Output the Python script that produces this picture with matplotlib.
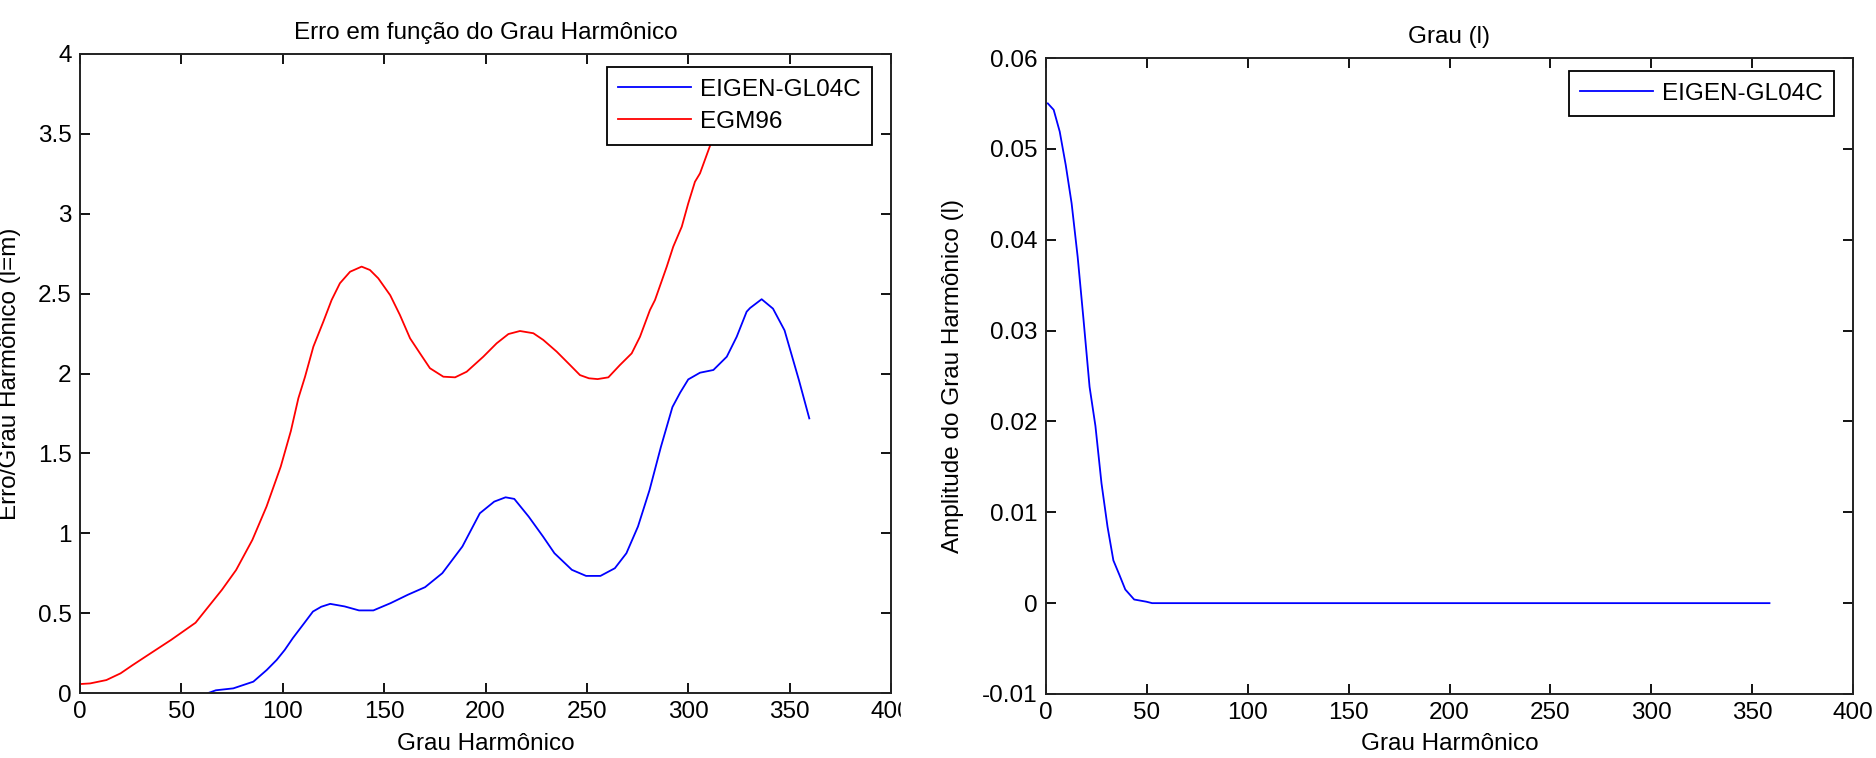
import matplotlib
matplotlib.use("Agg")
import matplotlib.pyplot as plt
from matplotlib.patches import Rectangle
from matplotlib.ticker import FuncFormatter, MultipleLocator

plt.rcParams['font.family'] = ['Liberation Sans', 'DejaVu Sans']
FS = 17.5

# ---------- dados: erro por grau (l=m) ----------
egm96_grau = [0, 5, 13, 20, 26, 35, 45, 57, 70, 77, 85, 92, 99, 104, 107.7,
              111, 115.1, 120, 124.1, 128.2, 133.2, 138.9, 143, 147.1, 153,
              157.8, 162.8, 167.7, 172.6, 179.2, 185, 190.7, 198.9, 205.5,
              211.3, 217, 223.6, 228.5, 235.1, 241.7, 246.6, 251, 255.3,
              260.6, 266.3, 272.1, 276.2, 281.1, 283.6, 289.4, 292.6,
              296.8, 300, 303.3, 305.8, 310.7, 315, 320, 325]
egm96_erro = [0.056, 0.06, 0.081, 0.123, 0.175, 0.25, 0.333, 0.44, 0.646, 0.77,
              0.958, 1.167, 1.417, 1.64, 1.845,
              1.98, 2.168, 2.324, 2.46, 2.565, 2.637, 2.669, 2.648, 2.596, 2.49,
              2.366, 2.22, 2.126, 2.033, 1.98, 1.976, 2.011, 2.105, 2.189,
              2.247, 2.266, 2.252, 2.21, 2.137, 2.053, 1.99, 1.97, 1.965,
              1.976, 2.053, 2.126, 2.23, 2.397, 2.46, 2.669, 2.794,
              2.919, 3.065, 3.2, 3.253, 3.424, 3.55, 3.7, 3.85]

eigen_grau = [63.3, 67, 75.6, 85.5, 92.1, 97, 101, 105, 110.6, 114.9, 119,
              123.4, 130.5, 137.6, 144.7, 153.2, 161.7, 170.2, 178.7, 188.6,
              197.2, 204.3, 209.9, 214.2, 221.3, 228.4, 234, 242.6, 249.6,
              256.7, 263.8, 269.5, 275.2, 280.9, 286.5, 292.2, 296, 300,
              305.8, 312.4, 319, 323.9, 328.8, 330.5, 336.2, 341.8, 347.5,
              354.6, 359.7]
eigen_erro = [0.0, 0.017, 0.029, 0.071, 0.144, 0.207, 0.27, 0.344, 0.4375, 0.51,
              0.54, 0.558, 0.542, 0.517, 0.517, 0.5625, 0.615, 0.6625, 0.75,
              0.917, 1.125, 1.198, 1.225, 1.215, 1.104, 0.979, 0.875, 0.771,
              0.733, 0.733, 0.781, 0.875, 1.042, 1.27, 1.54, 1.79, 1.88, 1.963,
              2.005, 2.022, 2.105, 2.23, 2.387, 2.41, 2.465, 2.406, 2.27,
              1.958, 1.719]

# ---------- dados: amplitude por grau ----------
amp_grau = [0.9, 3.8, 6.8, 9.8, 12.7, 15.7, 18.6, 21.6, 24.5, 27.5, 30.5,
            33.4, 36.4, 39.3, 43.7, 49.7, 52.6, 100, 200, 300, 358.6]
amp_valor = [0.055, 0.0543, 0.0519, 0.0482, 0.044, 0.0381, 0.0312, 0.0238,
             0.0195, 0.0132, 0.0084, 0.0047, 0.0031, 0.0015, 0.0004, 0.00016,
             0.0, 0.0, 0.0, 0.0, 0.0]

W, H = 1876, 758
fig = plt.figure(figsize=(W / 100, H / 100), dpi=100)


def px_axes(l, t, r, b):
    return [l / W, (H - b) / H, (r - l) / W, (b - t) / H]


def estilo(ax):
    ax.tick_params(direction='in', length=7, width=1.3, top=True, right=True,
                   labelsize=FS, pad=6)
    for s in ax.spines.values():
        s.set_linewidth(1.4)
        s.set_color('#222222')
    ax.xaxis.set_major_locator(MultipleLocator(50))
    ax.xaxis.set_major_formatter(FuncFormatter(lambda v, p: '%g' % v))
    ax.yaxis.set_major_formatter(FuncFormatter(lambda v, p: '%g' % round(v, 6)))


def legenda(ax, anchor):
    leg = ax.legend(loc='upper right', bbox_to_anchor=anchor, borderaxespad=0,
                    fontsize=FS, frameon=True, fancybox=False, framealpha=1,
                    edgecolor='black', handlelength=3.0, handletextpad=0.35,
                    labelspacing=0.42, borderpad=0.48)
    leg.get_frame().set_linewidth(1.3)
    return leg


ax1 = fig.add_axes(px_axes(80, 54, 891, 693))
ax1.plot(eigen_grau, eigen_erro, color='#0000ff', lw=1.3, label='EIGEN-GL04C')
ax1.plot(egm96_grau, egm96_erro, color='#ff0000', lw=1.3, label='EGM96')
ax1.set_xlim(0, 400)
ax1.set_ylim(0, 4)
ax1.yaxis.set_major_locator(MultipleLocator(0.5))
estilo(ax1)
ax1.set_title('Erro em função do Grau Harmônico', fontsize=FS, pad=11)
ax1.set_xlabel('Grau Harmônico', fontsize=FS)
ax1.set_ylabel('Erro/Grau Harmônico (l=m)', fontsize=FS)
ax1.xaxis.set_label_coords(0.5, -0.062)
ax1.yaxis.set_label_coords(-0.073, 0.5)
legenda(ax1, (0.9766, 0.9797))

ax2 = fig.add_axes(px_axes(1046, 58, 1853, 694))
ax2.plot(amp_grau, amp_valor, color='#0000ff', lw=1.3, label='EIGEN-GL04C')
ax2.set_xlim(0, 400)
ax2.set_ylim(-0.01, 0.06)
ax2.yaxis.set_major_locator(MultipleLocator(0.01))
estilo(ax2)
ax2.set_title('Grau (l)', fontsize=FS, pad=11)
ax2.set_xlabel('Grau Harmônico', fontsize=FS)
ax2.set_ylabel('Amplitude do Grau Harmônico (l)', fontsize=FS)
ax2.xaxis.set_label_coords(0.5, -0.062)
ax2.yaxis.set_label_coords(-0.102, 0.5)
legenda(ax2, (0.9765, 0.9796))

# o "400" do primeiro grafico aparece cortado na imagem original
fig.add_artist(Rectangle((901 / W, 0), 30 / W, 60 / H, transform=fig.transFigure,
                         color='white', zorder=10))

fig.savefig('out.png', dpi=100)
